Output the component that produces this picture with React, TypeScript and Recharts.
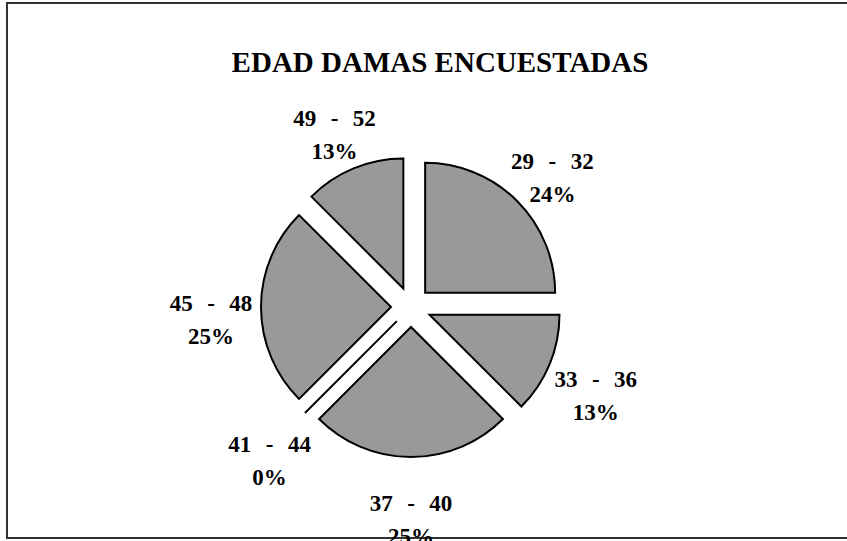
import React from 'react'
import { PieChart, Pie, Cell, Sector } from 'recharts'

// age groups as printed on the chart
const ageRanges = ['29  -  32', '33  -  36', '37  -  40', '41  -  44', '45  -  48', '49  -  52']
// slice sizes as drawn (share of respondents, %)
const shares = [25, 12.5, 25, 0, 25, 12.5]
// percentage labels as printed
const percentLabels = ['24%', '13%', '25%', '0%', '25%', '13%']

const data = ageRanges.map((name, i) => ({ name, value: shares[i] }))

const RAD = Math.PI / 180
const EXPLODE = 20
const LABEL_RADIUS = 200
const LABEL_DROP = 12
const FONT = '"Liberation Serif", "Times New Roman", serif'

function polar(cx: number, cy: number, r: number, angle: number) {
  return { x: cx + r * Math.cos(-angle * RAD), y: cy + r * Math.sin(-angle * RAD) }
}

function ExplodedSlice(props: any) {
  const { cx, cy, midAngle, startAngle, endAngle, innerRadius, outerRadius, fill } = props
  if (Math.abs(endAngle - startAngle) < 0.01) return null
  const o = polar(cx, cy, EXPLODE, midAngle)
  return (
    <Sector
      cx={o.x}
      cy={o.y}
      innerRadius={innerRadius}
      outerRadius={outerRadius}
      startAngle={startAngle}
      endAngle={endAngle}
      fill={fill}
      stroke="#000"
      strokeWidth={2}
    />
  )
}

function renderLabel(props: any) {
  const { cx, cy, midAngle, startAngle, endAngle, outerRadius, index } = props
  const pos = polar(cx, cy + LABEL_DROP, LABEL_RADIUS, midAngle)
  // a zero slice is still drawn by Excel as a single radius line
  const zero = Math.abs(endAngle - startAngle) < 0.01
  const o = polar(cx, cy, EXPLODE, midAngle)
  const tip = polar(o.x, o.y, outerRadius, midAngle)
  const textProps = {
    textAnchor: 'middle' as const,
    fontFamily: FONT,
    fontWeight: 'bold' as const,
    fontSize: 23,
    fill: '#000',
    dy: '0.35em',
  }
  return (
    <g key={`lbl-${index}`}>
      {zero && <line x1={o.x} y1={o.y} x2={tip.x} y2={tip.y} stroke="#000" strokeWidth={2} />}
      <text x={pos.x} y={pos.y - 16.5} {...textProps} style={{ whiteSpace: 'pre', wordSpacing: 1.5 }}>
        {ageRanges[index]}
      </text>
      <text x={pos.x} y={pos.y + 16.5} {...textProps}>
        {percentLabels[index]}
      </text>
    </g>
  )
}

export default function App() {
  return (
    <div style={{ position: 'absolute', left: 0, top: 0, width: 847, height: 541, overflow: 'hidden', background: '#fff' }}>
      <div
        style={{
          position: 'absolute',
          left: 6,
          top: 2,
          width: 900,
          height: 537,
          border: '2px solid #333',
          boxSizing: 'border-box',
        }}
      />
      <div style={{ position: 'absolute', left: 0, top: 0 }}>
        <PieChart width={847} height={541} margin={{ top: 0, right: 0, bottom: 0, left: 0 }}>
          <text x={440} y={62} dy="0.35em" textAnchor="middle" fontFamily={FONT} fontWeight="bold" fontSize={29} fill="#000">
            EDAD DAMAS ENCUESTADAS
          </text>
          <Pie
            data={data}
            dataKey="value"
            nameKey="name"
            cx={411}
            cy={307}
            innerRadius={0}
            outerRadius={130}
            startAngle={90}
            endAngle={-270}
            stroke="#000"
            strokeWidth={2}
            shape={ExplodedSlice}
            label={renderLabel}
            labelLine={false}
            isAnimationActive={false}
          >
            {data.map((d) => (
              <Cell key={d.name} fill="#999999" />
            ))}
          </Pie>
        </PieChart>
      </div>
    </div>
  )
}
